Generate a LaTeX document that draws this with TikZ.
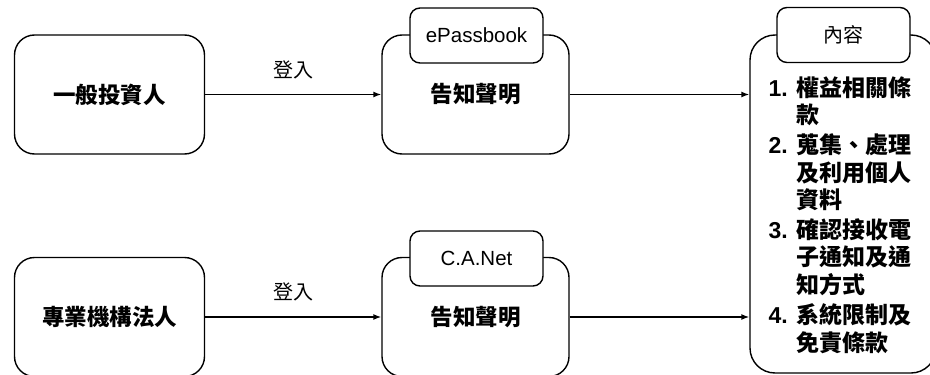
\documentclass[tikz,border=0pt]{standalone}
\usepackage{fontspec}
\setmainfont{Liberation Sans}
\newfontfamily\cjk{Noto Sans CJK TC}
\usetikzlibrary{arrows.meta}

\begin{document}
\begin{tikzpicture}[x=1pt,y=-1pt,
      line width=1.4pt,
      every node/.style={inner sep=0pt},
      actor/.style={draw,rounded corners=20pt,minimum width=190pt,minimum height=119pt,
                    font=\cjk\bfseries\fontsize{22.5}{26}\selectfont},
      notice/.style={draw,rounded corners=20pt,minimum width=187pt,minimum height=119pt,
                     font=\cjk\bfseries\fontsize{22.5}{26}\selectfont},
      tab/.style={draw,fill=white,rounded corners=10pt,minimum width=133pt,minimum height=55pt,
                  font=\fontsize{20.5}{24}\selectfont},
      login/.style={-{Latex[length=8pt,width=6pt]}},
      loginlabel/.style={font=\cjk\fontsize{20}{24}\selectfont}
     ]
    \useasboundingbox (0,0) rectangle (930,375);
    \clip (0,0) rectangle (930,375);
    % left column
    \node[actor] (investor) at (109.5,94.5) {一般投資人};
    \node[actor] (corporate) at (109.5,317) {專業機構法人};
    % middle column
    \node[notice] (notice1) at (475.5,94.5) {告知聲明};
    \node[tab] (passbook) at (476.5,35.5) {ePassbook};
    \node[notice] (notice2) at (475.5,317) {告知聲明};
    \node[tab] (canet) at (476.5,258.5) {C.A.Net};
    % right column
    \node[draw,rounded corners=25pt,minimum width=186pt,minimum height=338pt] (content) at (843,204) {};
    \node[tab,font=\cjk\fontsize{20}{24}\selectfont] (contenttab) at (843.5,35) {內容};
    \node[anchor=north west,align=left,font=\bfseries\fontsize{23}{25}\selectfont] (items) at (768,76) {%
      \begin{tabular}{@{}l@{\hspace{9pt}}l@{}}
        1. & \cjk 權益相關條\\
           & \cjk 款\\[3pt]
        2. & \cjk 蒐集、處理\\
           & \cjk 及利用個人\\
           & \cjk 資料\\[3pt]
        3. & \cjk 確認接收電\\
           & \cjk 子通知及通\\
           & \cjk 知方式\\[3pt]
        4. & \cjk 系統限制及\\
           & \cjk 免責條款
      \end{tabular}};
    % connectors
    \draw[login] (investor) -- node[loginlabel,yshift=25pt] {登入} (notice1);
    \draw[login] (corporate) -- node[loginlabel,yshift=25pt] {登入} (notice2);
    \draw[login] (notice1.east) -- (notice1.east -| content.west);
    \draw[login] (notice2.east) -- (notice2.east -| content.west);
\end{tikzpicture}
\end{document}
